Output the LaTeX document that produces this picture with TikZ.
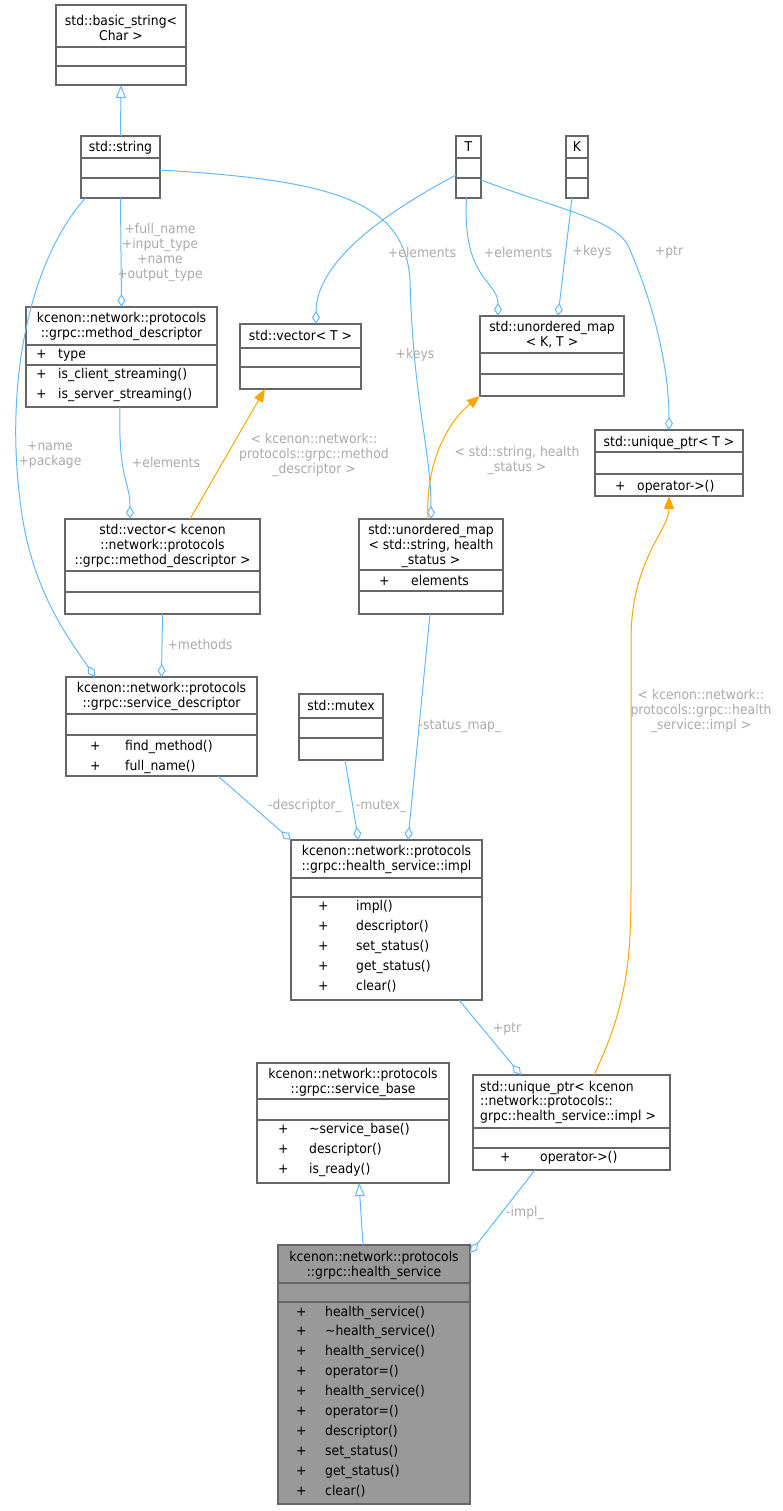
\documentclass[tikz,border=0pt]{standalone}
\usepackage{fontspec}
\setmainfont{DejaVu Sans}[FakeStretch=0.92]
\usetikzlibrary{arrows.meta,calc}
\definecolor{eb}{HTML}{63B8FF}
\definecolor{eo}{HTML}{FFA500}
\definecolor{bd}{HTML}{666666}
\definecolor{lg}{HTML}{AAAAAA}
\newcommand\ubox[8][white]{%
  \node[box,fill=#1,anchor=north west,minimum width={(#5-#3)*1pt},minimum height={(#6-#4)*1pt}] (#2) at (#3,#4) {};
  \draw[bd,line width=1.1pt] (#3,#7) -- (#5,#7) (#3,#8) -- (#5,#8);}
\newcommand\tl[3]{\node[txt] at (#1,#2) {#3};}
\newcommand\tll[3]{\node[txt,anchor=base west] at (#1,#2) {#3};}
\newcommand\mr[4]{\node[txt,anchor=base west] at (#1,#3) {+}; \node[txt,anchor=base west] at (#2,#3) {#4};}
\begin{document}
\begin{tikzpicture}[x=1pt,y=-1pt,
  box/.style={draw=bd,line width=1.1pt,inner sep=0pt,outer sep=0pt},
  txt/.style={font=\fontsize{13.5}{15}\selectfont,anchor=base,inner sep=0pt},
  lab/.style={font=\fontsize{13.5}{15}\selectfont,text=lg,align=center,inner sep=0pt},
  eg/.style={draw=eb,line width=1pt},
  dia/.style={eg,-{Diamond[open,length=13pt,width=8pt]}},
  inh/.style={eg,-{Triangle[open,length=13pt,width=10pt]}},
  tpl/.style={draw=eo,line width=1pt,-{Triangle[length=13pt,width=10pt]}}]
\useasboundingbox (0,0) rectangle (782,1511);
% boxes
\ubox{bs}{56}{5}{186}{85}{47}{66}
\tl{121}{26}{std::basic\_string<}\tl{121}{41}{Char >}
\ubox{str}{81}{136}{160}{198}{158}{178}
\tl{120.5}{152}{std::string}
\ubox{T}{456}{136}{481}{198}{158}{178}
\tl{468.5}{152}{T}
\ubox{K}{566}{136}{588}{198}{158}{178}
\tl{577}{152}{K}
\ubox{md}{26}{307}{217}{407}{345}{365}
\tl{121.5}{322}{kcenon::network::protocols}\tl{121.5}{337}{::grpc::method\_descriptor}
\mr{36}{58}{358}{type}\mr{36}{58}{378}{is\_client\_streaming()}\mr{36}{58}{398}{is\_server\_streaming()}
\ubox{vecT}{240}{324}{361}{389}{348}{367}
\tl{300.5}{340}{std::vector< T >}
\ubox{um}{480}{316}{624}{396}{353}{374}
\tl{552}{331}{std::unordered\_map}\tl{552}{346}{< K, T >}
\ubox{up}{595}{430}{743}{496}{452}{474}
\tl{669}{446}{std::unique\_ptr< T >}
\mr{615}{637}{490}{operator->()}
\ubox{vmd}{65}{519}{260}{614}{571}{592}
\tl{162.5}{534}{std::vector< kcenon}\tl{162.5}{549}{::network::protocols}\tl{162.5}{564}{::grpc::method\_descriptor >}
\ubox{um2}{359}{519}{503}{614}{570}{591}
\tl{431}{534}{std::unordered\_map}\tl{431}{549}{< std::string, health}\tl{431}{564}{\_status >}
\mr{379}{411}{585}{elements}
\ubox{sd}{66}{677}{257}{776}{714}{735}
\tl{161.5}{692}{kcenon::network::protocols}\tl{161.5}{707}{::grpc::service\_descriptor}
\mr{90}{125}{750}{find\_method()}\mr{90}{125}{770}{full\_name()}
\ubox{mx}{299}{694}{383}{760}{718}{738}
\tl{341}{710}{std::mutex}
\ubox{im}{291}{840}{482}{1000}{878}{897}
\tl{386.5}{855}{kcenon::network::protocols}\tl{386.5}{870}{::grpc::health\_service::impl}
\mr{318}{356}{910}{impl()}\mr{318}{356}{930}{descriptor()}\mr{318}{356}{950}{set\_status()}\mr{318}{356}{970}{get\_status()}\mr{318}{356}{990}{clear()}
\ubox{sb}{257}{1063}{449}{1183}{1099}{1120}
\tl{353}{1078}{kcenon::network::protocols}\tl{353}{1093}{::grpc::service\_base}
\mr{278}{309}{1133}{\textasciitilde service\_base()}\mr{278}{309}{1153}{descriptor()}\mr{278}{309}{1173}{is\_ready()}
\ubox{ui}{473}{1075}{670}{1170}{1128}{1148}
\tll{480}{1091}{std::unique\_ptr< kcenon}\tll{480}{1105}{::network::protocols::}\tll{480}{1120}{grpc::health\_service::impl >}
\mr{500}{540}{1161}{operator->()}
\ubox[black!40]{hs}{278}{1245}{470}{1504}{1283}{1302}
\tl{374}{1261}{kcenon::network::protocols}\tl{374}{1276}{::grpc::health\_service}
\foreach \t [count=\i from 0] in {health\_service(),\textasciitilde health\_service(),health\_service(),operator=(),health\_service(),operator=(),descriptor(),set\_status(),get\_status(),clear()}
  {\mr{296}{325}{1316+\i*19.97}{\t}}
% edges
\draw[inh] (str.north) -- (bs.south);
\draw[dia] (str.south) -- (md.north);
\node[lab] at (160,252) {+full\_name\\+input\_type\\+name\\+output\_type};
\draw[dia] ([xshift=-35]str.south) .. controls (30,260) and (5,380) .. (20,500) .. controls (30,590) and (70,640) .. ([xshift=-66.5]sd.north);
\node[lab] at (50,455) {+name\\+package};
\draw[dia] ([yshift=-3]str.east) .. controls (330,180) and (405,200) .. (410,280) .. controls (413,400) and (431,450) .. (um2.north);
\node[lab] at (415,355) {+keys};
\draw[dia] ([yshift=-8]T.west) .. controls (390,210) and (316,260) .. ([xshift=15.5]vecT.north);
\node[lab] at (422,252) {+elements};
\draw[dia] ([xshift=-2]T.south) .. controls (462,280) and (498,280) .. ([xshift=-54]um.north);
\node[lab] at (518,252) {+elements};
\draw[dia] ([xshift=-5]K.south) -- ([xshift=6]um.north);
\node[lab] at (592,252) {+keys};
\draw[dia] ([yshift=-13]T.east) .. controls (560,210) and (620,220) .. (630,250) .. controls (660,320) and (669,380) .. (up.north);
\node[lab] at (669,252) {+ptr};
\draw[tpl] ([xshift=27.5]vmd.north) -- ([xshift=-35.5]vecT.south);
\node[lab] at (314,455) {< kcenon::network::\\protocols::grpc::method\\\_descriptor >};
\draw[tpl] ([xshift=-3]um2.north) .. controls (425,460) and (450,420) .. (um.south west);
\node[lab] at (517,460) {< std::string, health\\\_status >};
\draw[dia] ([xshift=-1.5]md.south) .. controls (118,480) and (130,480) .. ([xshift=-32.5]vmd.north);
\node[lab] at (166,462) {+elements};
\draw[dia] (vmd.south) -- (sd.north);
\node[lab] at (200,644) {+methods};
\draw[dia] ([xshift=-39]sd.south east) -- (im.north west);
\node[lab] at (305,806) {-descriptor\_};
\draw[dia] ([xshift=4]mx.south) -- ([xshift=-28]im.north);
\node[lab] at (381,806) {-mutex\_};
\draw[dia] ([xshift=-1]um2.south) -- ([xshift=21.5]im.north);
\node[lab] at (460,726) {-status\_map\_};
\draw[dia] ([xshift=72.5]im.south) -- ([xshift=-50.5]ui.north);
\node[lab] at (507,1029) {+ptr};
\draw[tpl] ([xshift=22.5]ui.north) .. controls (630,1000) and (631,950) .. (631,880) -- (631,640) .. controls (631,560) and (669,530) .. (up.south);
\node[lab] at (701,711) {< kcenon::network::\\protocols::grpc::health\\\_service::impl >};
\draw[inh] ([xshift=-11]hs.north) -- ([xshift=6]sb.south);
\draw[dia] ([xshift=-36.5]ui.south) -- ([yshift=-8]hs.north east);
\node[lab] at (525,1213) {-impl\_};
\end{tikzpicture}
\end{document}
